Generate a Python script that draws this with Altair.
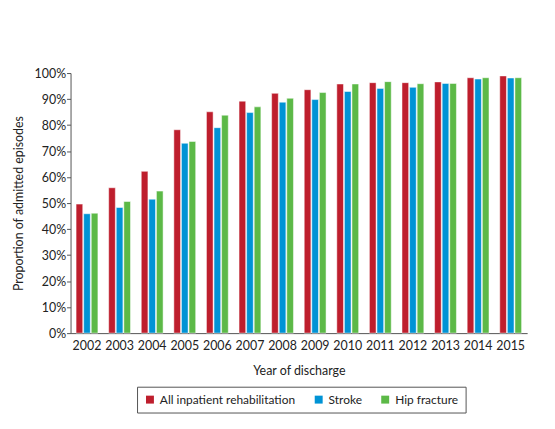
import altair as alt
import pandas as pd

years = [str(y) for y in range(2002, 2016)]
series = ["All inpatient rehabilitation", "Stroke", "Hip fracture"]
all_rehab = [49.6, 55.9, 62.2, 78.2, 85.1, 89.2, 92.2, 93.6, 95.8, 96.3, 96.3, 96.6, 98.2, 98.9]
stroke = [45.9, 48.3, 51.5, 73.0, 79.0, 84.8, 88.8, 89.8, 92.9, 94.1, 94.5, 96.0, 97.7, 98.1]
hip = [46.1, 50.6, 54.6, 73.7, 83.8, 87.0, 90.3, 92.5, 95.8, 96.7, 95.9, 96.0, 98.2, 98.2]
colors = ["#BE1E2D", "#0093D5", "#5CB947"]

rows = []
for name, vals in zip(series, [all_rehab, stroke, hip]):
    for y, v in zip(years, vals):
        rows.append({"year": y, "series": name, "value": v / 100})
df = pd.DataFrame(rows)

FONT = "Lato"

chart = alt.Chart(df).mark_bar(stroke="white", strokeWidth=0.5).encode(
    x=alt.X("year:N", title="Year of discharge", sort=years,
            scale=alt.Scale(paddingInner=0.33, paddingOuter=0.17),
            axis=alt.Axis(labelAngle=0, ticks=False, labelPadding=7, titlePadding=12,
                          domainColor="#555555", labelColor="#222222", titleColor="#222222")),
    xOffset=alt.XOffset("series:N", sort=series, scale=alt.Scale(paddingInner=0.12)),
    y=alt.Y("value:Q", title="Proportion of admitted episodes",
            scale=alt.Scale(domain=[0, 1]),
            axis=alt.Axis(format="%", values=[i / 10 for i in range(11)], grid=False,
                          tickSize=4, tickColor="#555555", domainColor="#555555",
                          labelPadding=1, titlePadding=9,
                          labelColor="#222222", titleColor="#222222")),
    color=alt.Color("series:N", sort=series,
                    scale=alt.Scale(domain=series, range=colors),
                    legend=alt.Legend(title=None, orient="none", legendX=67, legendY=316,
                                      direction="horizontal",
                                      symbolType="square", symbolSize=64, symbolStrokeWidth=0,
                                      strokeColor="#555555", padding=7, labelOffset=4,
                                      columnPadding=17, labelFontSize=12, labelColor="#222222")),
).properties(width=460, height=262, padding={"left": 4, "top": 58, "right": 20, "bottom": 5}).configure_view(
    stroke=None
).configure_axis(
    labelFont=FONT, titleFont=FONT, labelFontSize=12.5, titleFontSize=12.5, titleFontWeight="normal"
).configure_legend(
    labelFont=FONT
)

chart.save("out.html", embed_options={"renderer": "svg", "actions": False})
